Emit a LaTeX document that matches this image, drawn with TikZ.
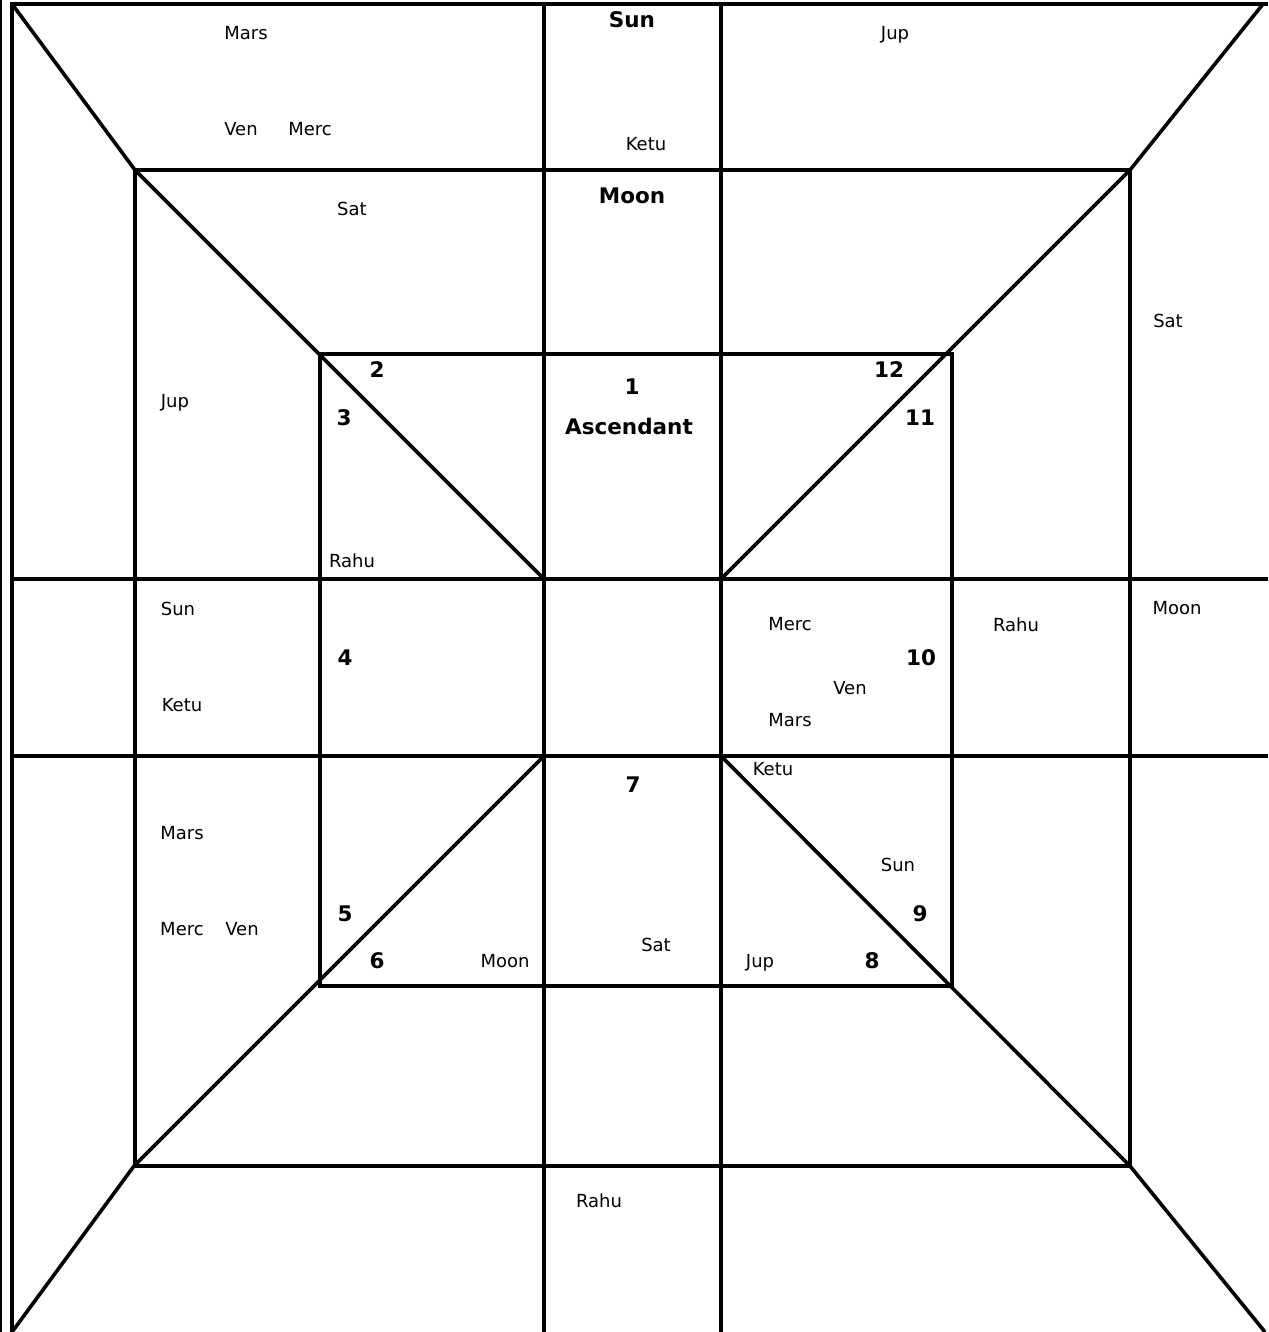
\documentclass[tikz,border=0pt]{standalone}
\usepackage{fontspec}
\setmainfont{DejaVu Sans}

\begin{document}
\begin{tikzpicture}[x=0.5pt,y=-0.5pt,line width=1.8pt]
  \tikzstyle{planet}=[inner sep=0pt,text height=6.5pt,text depth=0pt,font=\fontsize{9}{11}\selectfont]
  \tikzstyle{house}=[inner sep=0pt,text height=7.8pt,text depth=0pt,font=\fontsize{10.75}{13}\selectfont\bfseries]
  \useasboundingbox (0,0) rectangle (1268,1332);
  % frame corners
  \coordinate (ftl) at (12,4);
  \coordinate (ftr) at (1263,4);
  \coordinate (fbr) at (1265,1332);
  \coordinate (fbl) at (12,1332);
  % middle square
  \coordinate (mtl) at (135,170);
  \coordinate (mtr) at (1130,170);
  \coordinate (mbr) at (1130,1166);
  \coordinate (mbl) at (134,1166);
  % inner square
  \coordinate (itl) at (320,354);
  \coordinate (itr) at (952,354);
  \coordinate (ibr) at (952,986);
  \coordinate (ibl) at (320,986);
  % centre box
  \coordinate (ctl) at (544,579);
  \coordinate (ctr) at (721,579);
  \coordinate (cbr) at (721,756);
  \coordinate (cbl) at (544,756);

  \draw[line width=1pt] (1,0) -- (1,1332);
  \draw (1268,4) -- (ftl) -- (fbl);
  \draw (544,4) -- (544,1332);
  \draw (721,4) -- (721,1332);
  \draw (12,579) -- (1268,579);
  \draw (12,756) -- (1268,756);
  \draw (mtl) rectangle (mbr);
  \draw (itl) rectangle (ibr);
  \draw (ftl) -- (mtl) -- (ctl);
  \draw (ftr) -- (mtr) -- (ctr);
  \draw (fbr) -- (mbr) -- (cbr);
  \draw (fbl) -- (mbl) -- (cbl);

  % house numbers
  \node[house] (h1) at (632,387) {1};
  \node[house] (asc) at (629,427) {Ascendant};
  \node[house] (h2) at (377,370) {2};
  \node[house] (h3) at (344,418) {3};
  \node[house] (h4) at (345,658) {4};
  \node[house] (h5) at (345,914) {5};
  \node[house] (h6) at (377,961) {6};
  \node[house] (h7) at (633,785) {7};
  \node[house] (h8) at (872,961) {8};
  \node[house] (h9) at (920,914) {9};
  \node[house] (h10) at (921,658) {10};
  \node[house] (h11) at (920,418) {11};
  \node[house] (h12) at (889,370) {12};
  \node[house] (sunA) at (632,20) {Sun};
  \node[house] (moonA) at (632,196) {Moon};

  % planets
  \node[planet] (marsA) at (246,33) {Mars};
  \node[planet] (venA) at (241,129) {Ven};
  \node[planet] (mercA) at (310,129) {Merc};
  \node[planet] (ketuA) at (646,144) {Ketu};
  \node[planet] (jupA) at (895,33) {Jup};
  \node[planet] (satA) at (352,209) {Sat};
  \node[planet] (satB) at (1168,321) {Sat};
  \node[planet] (jupB) at (175,401) {Jup};
  \node[planet] (rahuA) at (352,561) {Rahu};
  \node[planet] (sunB) at (178,609) {Sun};
  \node[planet] (ketuB) at (182,705) {Ketu};
  \node[planet] (mercB) at (790,624) {Merc};
  \node[planet] (venB) at (850,688) {Ven};
  \node[planet] (marsB) at (790,720) {Mars};
  \node[planet] (rahuB) at (1016,625) {Rahu};
  \node[planet] (moonB) at (1177,608) {Moon};
  \node[planet] (ketuC) at (773,769) {Ketu};
  \node[planet] (marsC) at (182,833) {Mars};
  \node[planet] (mercC) at (182,929) {Merc};
  \node[planet] (venC) at (242,929) {Ven};
  \node[planet] (sunC) at (898,865) {Sun};
  \node[planet] (satC) at (656,945) {Sat};
  \node[planet] (moonC) at (505,961) {Moon};
  \node[planet] (jupC) at (760,961) {Jup};
  \node[planet] (rahuC) at (599,1201) {Rahu};
\end{tikzpicture}
\end{document}
